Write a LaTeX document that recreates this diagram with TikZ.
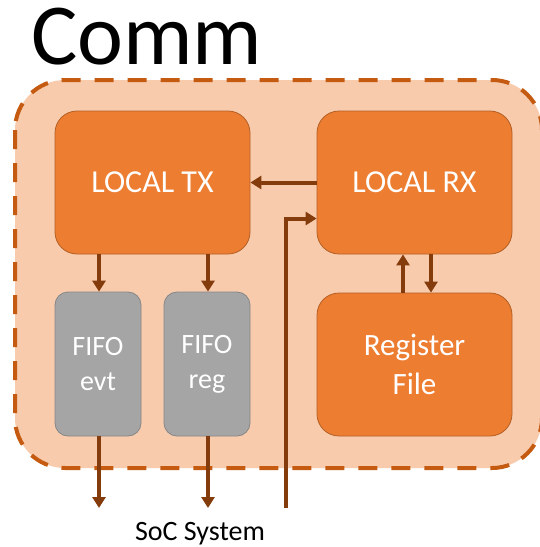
\documentclass[tikz,border=0pt]{standalone}
\usepackage{fontspec}
\setmainfont{Carlito}
\usetikzlibrary{arrows.meta}

\definecolor{outerfill}{HTML}{F8CBAD}
\definecolor{outerdash}{HTML}{C55A11}
\definecolor{blockfill}{HTML}{ED7D31}
\definecolor{blockline}{HTML}{B35F24}
\definecolor{fifofill}{HTML}{A5A5A5}
\definecolor{fifoline}{HTML}{868686}
\definecolor{wire}{HTML}{843C0C}

\tikzset{
  block/.style={draw=blockline, line width=0.8pt, fill=blockfill, rounded corners=22pt,
    inner sep=0pt, minimum width=195pt, minimum height=143pt,
    text=white, align=center, font=\fontsize{32}{39}\selectfont},
  fifo/.style={draw=fifoline, line width=0.8pt, fill=fifofill, rounded corners=13pt,
    inner sep=0pt, minimum width=86pt, minimum height=144pt,
    text=white, align=center, font=\fontsize{28}{35}\selectfont},
  wirearrow/.style={draw=wire, line width=4pt, -{Triangle[width=13pt,length=11pt]}},
}

\begin{document}
\begin{tikzpicture}[x=1pt, y=-1pt]
  \useasboundingbox (0,0) rectangle (540,547);

  % title
  \node[anchor=base west, inner sep=0pt, font=\fontsize{87}{92}\selectfont] (title) at (31,64) {Comm};

  % enclosing module (its right edge runs past the page border)
  \draw[outerdash, fill=outerfill, line width=4pt, dash pattern=on 19pt off 14pt,
        rounded corners=50pt] (15,80) rectangle (542,468);

  % blocks
  \node[block] (tx) at (152.5,182.5) {LOCAL TX};
  \node[block] (rx) at (414.5,182.5) {LOCAL RX};
  \node[block, font=\fontsize{31}{39}\selectfont] (reg) at (414.5,364.5) {Register\\File};
  \node[fifo] (fe) at (98,364) {FIFO\\evt};
  \node[fifo] (fr) at (207,364) {FIFO\\reg};

  % external endpoints
  \coordinate (feout) at (99,508);
  \coordinate (frout) at (208,508);
  \coordinate (socin) at (286,508);
  \node[anchor=base, inner sep=0pt, font=\fontsize{28}{32}\selectfont] (soc) at (200,540) {SoC System};

  % connectors
  \draw[wirearrow] (rx.west) -- (tx.east);
  \draw[wirearrow] ([xshift=1pt]fe.north |- tx.south) -- ([xshift=1pt]fe.north);
  \draw[wirearrow] ([xshift=1pt]fr.north |- tx.south) -- ([xshift=1pt]fr.north);
  \draw[wirearrow] ([xshift=1pt]fe.south) -- (feout);
  \draw[wirearrow] ([xshift=1pt]fr.south) -- (frout);
  \draw[wirearrow] (socin) |- ([yshift=-36pt]rx.west);
  \draw[wirearrow] ([xshift=-11.5pt]reg.north) -- ([xshift=-11.5pt]rx.south);
  \draw[wirearrow] ([xshift=16.5pt]rx.south) -- ([xshift=16.5pt]reg.north);
\end{tikzpicture}
\end{document}
